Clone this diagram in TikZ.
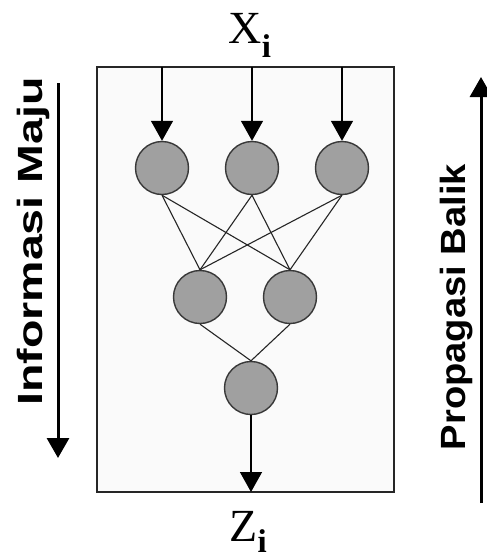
\documentclass[tikz,border=0pt]{standalone}
\usepackage{fontspec}
\newfontfamily\labelfont{Liberation Sans}
\newfontfamily\iofont{Liberation Serif}
\usetikzlibrary{arrows.meta}
\definecolor{boxfill}{HTML}{FAFAFA}
\definecolor{nodefill}{HTML}{A0A0A0}
\definecolor{nodeedge}{HTML}{383838}
\tikzset{
  neuron/.style={circle, draw=nodeedge, fill=nodefill, line width=1.4pt, minimum size=53pt, inner sep=0pt},
  link/.style={draw=black!85, line width=1.1pt},
  feed/.style={draw=black, line width=1.4pt, -{Triangle[length=20pt,width=22pt]}},
  bigarrow/.style={draw=black, line width=3pt, -{Triangle[length=20pt,width=22pt]}},
  sidelabel/.style={rotate=90, anchor=base, inner sep=0pt, font=\labelfont\bfseries\fontsize{35}{35}\selectfont},
  iolabel/.style={anchor=base west, inner sep=0pt, font=\iofont\fontsize{46}{46}\selectfont},
  iosub/.style={anchor=base west, inner sep=0pt, font=\iofont\bfseries\fontsize{33}{33}\selectfont}
}
\begin{document}
\begin{tikzpicture}[x=1pt,y=-1pt]
\useasboundingbox (0,0) rectangle (487,558);
% frame
\draw[fill=boxfill, draw=black!85, line width=1.5pt] (97,67) rectangle (394,492);
% neurons
\node[neuron] (t1) at (162,168) {};
\node[neuron] (t2) at (252,168) {};
\node[neuron] (t3) at (342,168) {};
\node[neuron] (m1) at (200,297) {};
\node[neuron] (m2) at (290,297) {};
\node[neuron] (b1) at (251,388) {};
% input/output points on the frame
\coordinate (i1) at (162,67);
\coordinate (i2) at (252,67);
\coordinate (i3) at (342,67);
\coordinate (o1) at (251,492);
% links
\foreach \t in {t1,t2,t3}{
  \foreach \m in {m1,m2}{
    \draw[link] (\t.south) -- (\m.north);
  }
}
\draw[link] (m1.south) -- (b1.north);
\draw[link] (m2.south) -- (b1.north);
% feeding arrows
\draw[feed] (i1) -- (t1.north);
\draw[feed] (i2) -- (t2.north);
\draw[feed] (i3) -- (t3.north);
\draw[feed] (b1.south) -- (o1);
% labels
\node[iolabel] (xi) at (228,43) {X};
\node[iosub] (xsub) at (xi.base east) [yshift=-14pt] {i};
\node[iolabel] (zi) at (229,541) {Z};
\node[iosub] (zsub) at (zi.base east) [yshift=-11pt] {i};
% side arrows
\coordinate (la1) at (58,83);
\coordinate (la2) at (58,458);
\draw[bigarrow] (la1) -- (la2);
\coordinate (ra1) at (481,503);
\coordinate (ra2) at (481,77);
\draw[bigarrow] (ra1) -- (ra2);
\node[sidelabel] (lt) at (42,241.5) {\scalebox{1.33}[1]{Informasi Maju}};
\node[sidelabel] (rt) at (465,307) {\scalebox{1.09}[1]{Propagasi Balik}};
\end{tikzpicture}
\end{document}
